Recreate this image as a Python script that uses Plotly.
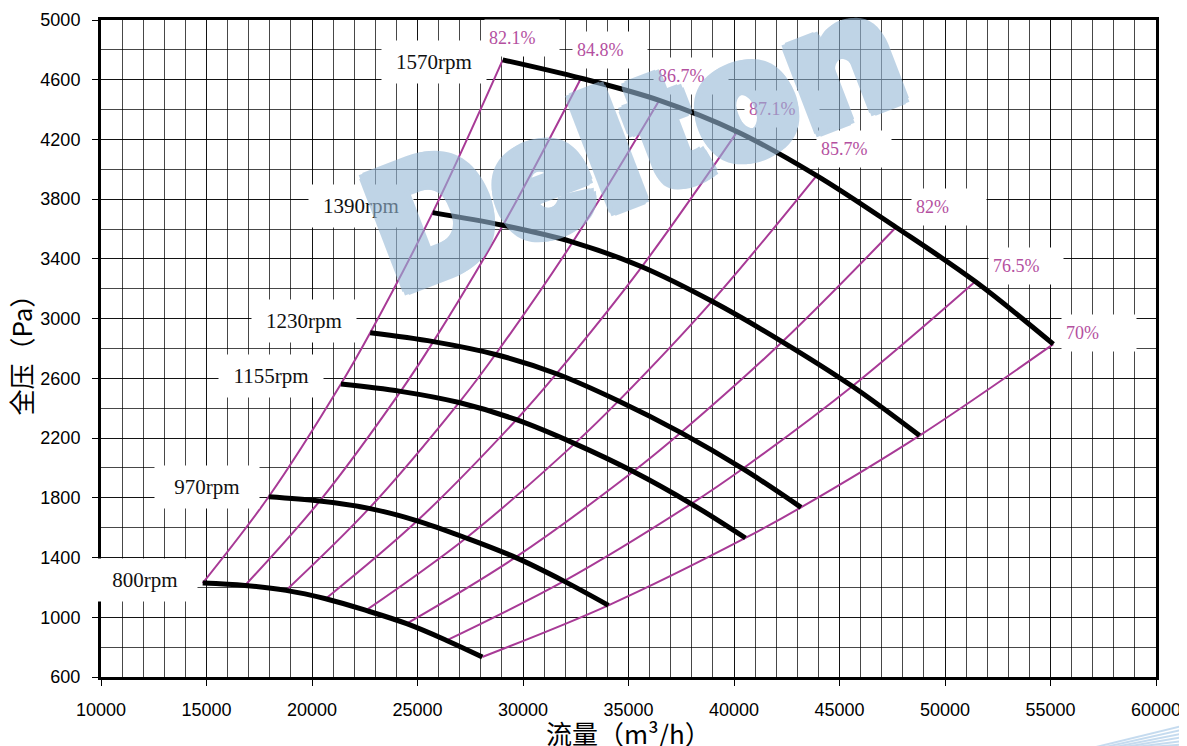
import plotly.graph_objects as go

# ---------------- data ----------------
rpm_labels = ["800rpm", "970rpm", "1155rpm", "1230rpm", "1390rpm", "1570rpm"]
eff_labels = ["82.1%", "84.8%", "86.7%", "87.1%", "85.7%", "82%", "76.5%", "70%"]

flow_800 = [14820, 16825, 18768, 20649, 22559, 24488, 26380, 28071]
pres_800 = [1229, 1213, 1180, 1124, 1046, 957, 845, 734]
flow_970 = [17948, 20363, 22706, 24987, 27305, 29640, 31940, 34049]
pres_970 = [1807, 1778, 1729, 1646, 1531, 1401, 1242, 1080]
flow_1155 = [21371, 24200, 26970, 29687, 32450, 35226, 37973, 40543]
pres_1155 = [2562, 2513, 2438, 2323, 2163, 1976, 1760, 1531]
flow_1230 = [22759, 25750, 28693, 31588, 34530, 37485, 40413, 43175]
pres_1230 = [2905, 2846, 2760, 2631, 2449, 2237, 1995, 1736]
flow_1390 = [25719, 29050, 32357, 35628, 38957, 42290, 45609, 48792]
pres_1390 = [3710, 3625, 3513, 3347, 3116, 2845, 2547, 2217]
flow_1570 = [29040, 32749, 36460, 40156, 43919, 47678, 51436, 55133]
pres_1570 = [4733, 4610, 4462, 4252, 3958, 3612, 3248, 2829]

x_ticks = [10000, 15000, 20000, 25000, 30000, 35000, 40000, 45000, 50000, 55000, 60000]
y_ticks = [600, 1000, 1400, 1800, 2200, 2600, 3000, 3400, 3800, 4200, 4600, 5000]

flows = [flow_800, flow_970, flow_1155, flow_1230, flow_1390, flow_1570]
press = [pres_800, pres_970, pres_1155, pres_1230, pres_1390, pres_1570]

# ---------------- styles / label placement (pixels) ----------------
MAGENTA = "#A83A96"
MAGENTA_TXT = "#B4509F"
rpm_label_shift = [(-58, 3), (-62, 10), (-70, 8), (-66, 12), (-72, 7), (-69, -2)]
# (left edge of label box relative to the point, vertical shift)
eff_label_shift = [(-19, 22), (-9, 28), (-6, 24), (7, 23), (-1, 27), (15, 20), (13, 16), (8, 11)]

# the page body has an 8px margin, so the figure is shrunk by that amount
W, H = 1179, 738
ML, MR, MT, MB = 93, 31, 12, 69

fig = go.Figure()

# efficiency (system) lines: connect the same point index across speeds
for j in range(len(eff_labels)):
    fig.add_trace(go.Scatter(
        x=[f[j] for f in flows], y=[p[j] for p in press],
        mode="lines", line=dict(color=MAGENTA, width=2, shape="spline"),
        hoverinfo="skip", showlegend=False))

# fan curves
for f, p in zip(flows, press):
    fig.add_trace(go.Scatter(
        x=f, y=p, mode="lines",
        line=dict(color="black", width=5, shape="spline", smoothing=1.0),
        hoverinfo="skip", showlegend=False))

annotations = []
for lab, f, p, (dx, dy) in zip(rpm_labels, flows, press, rpm_label_shift):
    annotations.append(dict(
        x=f[0], y=p[0], xref="x", yref="y", text=lab, showarrow=False,
        xshift=dx, yshift=dy, xanchor="center", yanchor="middle",
        width=104, height=42, bgcolor="white", borderpad=0,
        font=dict(family="Liberation Serif", size=21, color="#111")))

for j, (lab, (dx, dy)) in enumerate(zip(eff_labels, eff_label_shift)):
    annotations.append(dict(
        x=flow_1570[j], y=pres_1570[j], xref="x", yref="y", text=lab,
        showarrow=False, xshift=dx, yshift=dy, xanchor="left", yanchor="middle",
        width=66, height=28, bgcolor="white", borderpad=4, align="left",
        font=dict(family="Liberation Serif", size=18, color=MAGENTA_TXT)))

pw = W - ML - MR
ph = H - MT - MB

# axis titles
annotations.append(dict(
    x=(20 - 101) / pw, y=0.5, xref="paper", yref="paper", text="全压（Pa）",
    textangle=-90, showarrow=False, xanchor="center", yanchor="middle",
    font=dict(family="Noto Sans CJK SC", size=26, color="black")))
annotations.append(dict(
    x=0.5, y=(677 - 732) / ph, xref="paper", yref="paper", text="流量（m³/h）",
    showarrow=False, xanchor="center", yanchor="middle",
    font=dict(family="Noto Sans CJK SC", size=26, color="black")))

# watermark (thickened with a same-colour shadow, group opacity keeps it even)
wm_col = "rgb(150,184,214)"
sh = ", ".join(f"{a}px {b}px 0 {wm_col}" for a, b in
               [(5, 0), (-5, 0), (0, 5), (0, -5), (4, 4), (-4, 4), (4, -4), (-4, -4)])
annotations.append(dict(
    x=0.505, y=0.82, xref="paper", yref="paper", text="Delton",
    textangle=-21, showarrow=False, xanchor="center", yanchor="middle",
    opacity=0.6,
    font=dict(family="Inter, Lato, Roboto, Liberation Sans", size=166, weight=900,
              color=wm_col, shadow=sh)))

# decorative streaks in the bottom-right corner
shapes = []
for k in range(6):
    x0 = 1092 + k * 9
    shapes.append(dict(
        type="line", xref="paper", yref="paper",
        x0=(x0 - 101) / pw, y0=(677 - 748) / ph,
        x1=(1190 - 101) / pw, y1=(677 - (724 + k * 4)) / ph,
        line=dict(color="rgba(150,190,225,0.55)", width=2), layer="above"))

grid_col = "rgba(0,0,0,0.72)"
fig.update_layout(
    width=W, height=H,
    margin=dict(l=ML, r=MR, t=MT, b=MB, autoexpand=False),
    paper_bgcolor="white", plot_bgcolor="white",
    annotations=annotations, shapes=shapes,
    xaxis=dict(
        range=[10000, 60000], tickvals=x_ticks, ticktext=[str(v) for v in x_ticks],
        showgrid=True, gridcolor=grid_col, gridwidth=1,
        minor=dict(dtick=1000, tick0=10000, showgrid=True, gridcolor=grid_col, gridwidth=1),
        ticks="outside", ticklen=6, tickcolor="black", tickwidth=1,
        showline=True, linecolor="black", linewidth=3, mirror=True,
        tickfont=dict(family="Liberation Sans", size=18, color="black"),
        ticklabelstandoff=8, zeroline=False, fixedrange=True),
    yaxis=dict(
        range=[600, 5000], tickvals=y_ticks, ticktext=[str(v) for v in y_ticks],
        showgrid=True, gridcolor=grid_col, gridwidth=1,
        minor=dict(dtick=200, tick0=600, showgrid=True, gridcolor=grid_col, gridwidth=1),
        ticks="outside", ticklen=6, tickcolor="black", tickwidth=1,
        showline=True, linecolor="black", linewidth=3, mirror=True,
        tickfont=dict(family="Liberation Sans", size=18, color="black"),
        ticklabelstandoff=8, zeroline=False, fixedrange=True),
)

fig.write_html("out.html")
